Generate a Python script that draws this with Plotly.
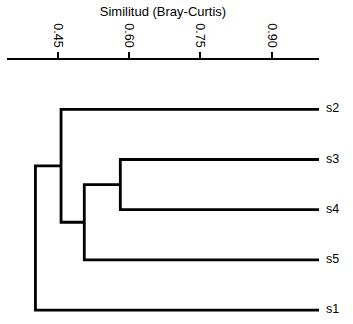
import plotly.graph_objects as go

# Leaf order (top to bottom) and merge structure
leaf_labels = ["s2", "s3", "s4", "s5", "s1"]
merge_left = ["s3", "c1", "s2", "c3"]
merge_right = ["s4", "s5", "c2", "s1"]
merge_names = ["c1", "c2", "c3", "c4"]
merge_sim = [0.581, 0.505, 0.456, 0.402]
leaf_sim = 1.0

tick_vals = [0.45, 0.60, 0.75, 0.90]
tick_text = ["0.45", "0.60", "0.75", "0.90"]

pos = {lab: (leaf_sim, i) for i, lab in enumerate(leaf_labels)}
xs, ys = [], []
for name, a, b, h in zip(merge_names, merge_left, merge_right, merge_sim):
    xa, ya = pos[a]
    xb, yb = pos[b]
    xs += [xa, h, h, xb, None]
    ys += [ya, ya, yb, yb, None]
    pos[name] = (h, (ya + yb) / 2)

fig = go.Figure()
fig.add_trace(go.Scatter(x=xs, y=ys, mode="lines",
                         line=dict(color="black", width=2.8),
                         hoverinfo="skip", showlegend=False))

for i, lab in enumerate(leaf_labels):
    fig.add_annotation(x=leaf_sim, y=i, text=lab, showarrow=False,
                       xanchor="left", xshift=5, yshift=1,
                       font=dict(size=12.5, color="black"))

fig.update_layout(
    width=353, height=324,
    margin=dict(l=7, r=34, t=60, b=4),
    paper_bgcolor="white", plot_bgcolor="white",
    font=dict(family="Liberation Sans, Arial", color="black", size=12),
    xaxis=dict(side="top", range=[0.342, 1.0], tickvals=tick_vals,
               ticktext=tick_text, tickangle=90, ticks="outside",
               ticklen=6, tickwidth=1.5, tickcolor="black",
               showline=True, linecolor="black", linewidth=2,
               showgrid=False, zeroline=False,
               title=dict(text="Similitud (Bray-Curtis)",
                          font=dict(size=13), standoff=4),
               tickfont=dict(size=12.5)),
    yaxis=dict(range=[4.197, -0.982], visible=False, showgrid=False,
               zeroline=False),
)

fig.write_html("out.html",
               config={"displayModeBar": False},
               post_script="document.body.style.margin='0';"
                           "document.body.style.padding='0';")
